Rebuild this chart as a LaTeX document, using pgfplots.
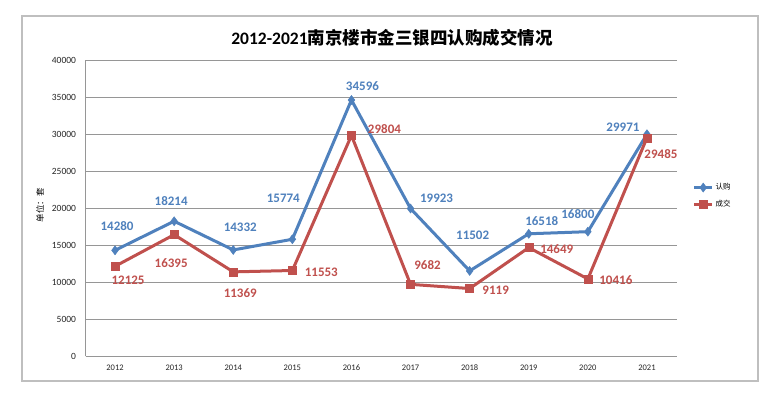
\documentclass[border=0pt]{standalone}
\usepackage{pgfplots}
\pgfplotsset{compat=1.18}
\usepackage{fontspec}
\setmainfont{Carlito}
\newfontfamily\cjk{Noto Sans CJK SC}
\newfontfamily\cjkb{Noto Sans CJK SC Bold}
\definecolor{cblue}{RGB}{79,129,189}
\definecolor{cred}{RGB}{192,80,77}
\definecolor{cgrid}{RGB}{150,150,150}
\pgfplotsset{
  lb/.style n args={3}{forget plot, draw=none, mark=none, nodes near coords,
    point meta=explicit,
    nodes near coords={\pgfmathprintnumber[fixed,set thousands separator={}]{\pgfplotspointmeta}},
    every node near coord/.append style={anchor=center, xshift=#2pt, yshift=#3pt, text=#1,
      font=\bfseries\fontsize{13}{15}\selectfont, inner sep=0pt}},
}
\begin{document}
\begin{tikzpicture}[x=1pt,y=1pt]
\path[fill=white] (0,0) rectangle (773,397);
\draw[color=black!25, line width=1.2pt] (22,16) rectangle (758,381);
\node[font=\bfseries\fontsize{17.5}{19}\selectfont] at (392,359) {2012-2021{\cjkb 南京楼市金三银四认购成交情况}};
\node[rotate=90, font=\cjk\fontsize{8.5}{9}\selectfont] at (40,192) {单位：套};
\begin{axis}[
  scale only axis, anchor=south west, at={(85.5pt,41pt)},
  width=591pt, height=296pt,
  xmin=-0.5, xmax=9.5, ymin=0, ymax=40000,
  xtick={0,...,9},
  xticklabels={2012,2013,2014,2015,2016,2017,2018,2019,2020,2021},
  ytick={0,5000,...,40000},
  scaled y ticks=false,
  /pgf/number format/assume math mode=true,
  xticklabel style={font=\fontsize{8.5}{10}\selectfont, text=black!85, yshift=-5pt},
  yticklabel style={font=\fontsize{9.5}{10}\selectfont, text=black!85, xshift=-6pt,
    /pgf/number format/.cd, fixed, set thousands separator={}},
  major tick length=0pt,
  axis x line*=bottom, axis y line*=left,
  axis line style={cgrid, line width=0.6pt, -},
  ymajorgrids, grid style={cgrid, line width=0.6pt},
  clip=false,
  legend style={at={(1.0,0.5)}, anchor=west, draw=none, fill=none,
    font=\cjk\fontsize{7.5}{9}\selectfont, row sep=5pt, inner sep=0pt, xshift=16pt, yshift=12pt},
  legend image code/.code={
    \draw[#1, mark repeat=2, mark phase=2] plot coordinates {(0pt,0pt) (9pt,0pt) (18pt,0pt)};},
  legend cell align=left,
]
\addplot[cblue, line width=3pt, mark=diamond*, mark size=4.5pt,
  mark options={solid, line width=0.5pt}]
  coordinates {(0,14280) (1,18214) (2,14332) (3,15774) (4,34596) (5,19923) (6,11502) (7,16518) (8,16800) (9,29971)};
\addlegendentry{认购}
\addplot[cred, line width=3pt, mark=square*, mark size=4pt,
  mark options={solid, line width=0.5pt}]
  coordinates {(0,12125) (1,16395) (2,11369) (3,11553) (4,29804) (5,9682) (6,9119) (7,14649) (8,10416) (9,29485)};
\addlegendentry{成交}
% blue labels
\addplot[lb={cblue}{2}{24}]   coordinates {(0,14280)[14280]};
\addplot[lb={cblue}{-3}{20}]  coordinates {(1,18214)[18214]};
\addplot[lb={cblue}{7}{23}]   coordinates {(2,14332)[14332]};
\addplot[lb={cblue}{-9}{41}]  coordinates {(3,15774)[15774]};
\addplot[lb={cblue}{11}{14}]  coordinates {(4,34596)[34596]};
\addplot[lb={cblue}{26}{10}]  coordinates {(5,19923)[19923]};
\addplot[lb={cblue}{3}{36}]   coordinates {(6,11502)[11502]};
\addplot[lb={cblue}{13}{13}]  coordinates {(7,16518)[16518]};
\addplot[lb={cblue}{-10}{18}] coordinates {(8,16800)[16800]};
\addplot[lb={cblue}{-24}{7}]  coordinates {(9,29971)[29971]};
% red labels
\addplot[lb={cred}{13}{-14}]  coordinates {(0,12125)[12125]};
\addplot[lb={cred}{-3}{-28}]  coordinates {(1,16395)[16395]};
\addplot[lb={cred}{7}{-21}]   coordinates {(2,11369)[11369]};
\addplot[lb={cred}{29}{-2}]   coordinates {(3,11553)[11553]};
\addplot[lb={cred}{33}{6}]    coordinates {(4,29804)[29804]};
\addplot[lb={cred}{17}{19}]   coordinates {(5,9682)[9682]};
\addplot[lb={cred}{26}{-2}]   coordinates {(6,9119)[9119]};
\addplot[lb={cred}{28}{-2}]   coordinates {(7,14649)[14649]};
\addplot[lb={cred}{28}{-1}]   coordinates {(8,10416)[10416]};
\addplot[lb={cred}{14}{-16}]  coordinates {(9,29485)[29485]};
\end{axis}
\end{tikzpicture}
\end{document}
